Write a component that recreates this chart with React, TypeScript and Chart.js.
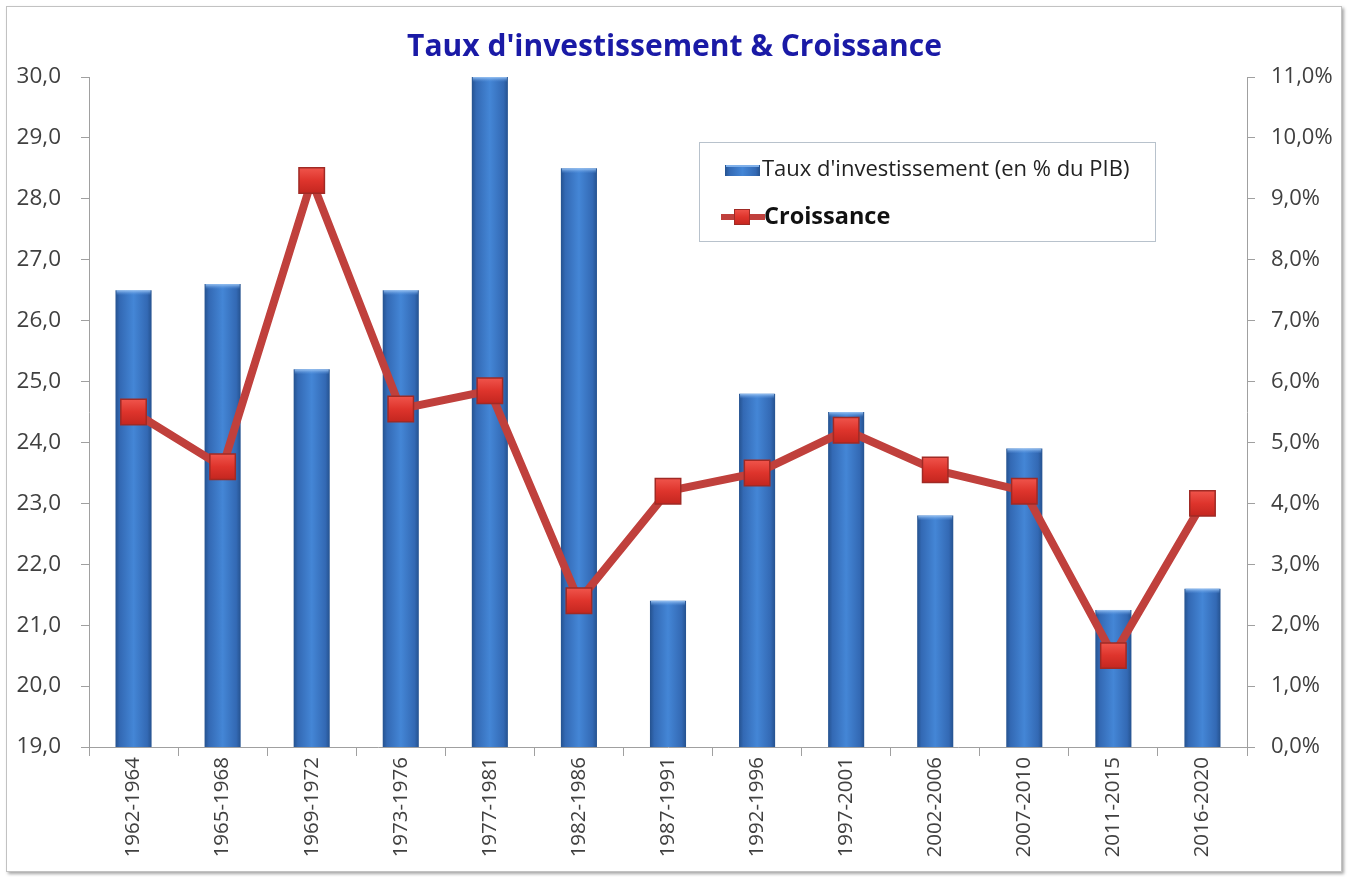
import React, { useEffect, useRef } from "react";
import { Chart, registerables } from "chart.js";

Chart.register(...registerables);

const categories = [
  "1962-1964", "1965-1968", "1969-1972", "1973-1976", "1977-1981", "1982-1986",
  "1987-1991", "1992-1996", "1997-2001", "2002-2006", "2007-2010", "2011-2015", "2016-2020",
];
const investissement = [26.5, 26.6, 25.2, 26.5, 30.0, 28.5, 21.4, 24.8, 24.5, 22.8, 23.9, 21.25, 21.6];
const croissance = [5.5, 4.6, 9.3, 5.55, 5.85, 2.4, 4.2, 4.5, 5.2, 4.55, 4.2, 1.5, 4.0];

const leftMin = 19;
const leftMax = 30;
const rightMin = 0;
const rightMax = 11;

const titleText = "Taux d'investissement & Croissance";
const barLabel = "Taux d'investissement (en % du PIB)";
const lineLabel = "Croissance";

const FONT = "'Open Sans', 'Noto Sans', sans-serif";
const BAR_PCT = 0.405;

function barGradient(ctx: CanvasRenderingContext2D, left: number, right: number) {
  const g = ctx.createLinearGradient(left, 0, right, 0);
  g.addColorStop(0, "#25528f");
  g.addColorStop(0.12, "#3369b4");
  g.addColorStop(0.5, "#4486d6");
  g.addColorStop(0.88, "#3369b4");
  g.addColorStop(1, "#25528f");
  return g;
}

function markerGradient(ctx: CanvasRenderingContext2D, top: number, bottom: number) {
  const g = ctx.createLinearGradient(0, top, 0, bottom);
  g.addColorStop(0, "#f0554c");
  g.addColorStop(0.5, "#de342c");
  g.addColorStop(1, "#c3261f");
  return g;
}

const barCapPlugin = {
  id: "barCap",
  afterDatasetDraw(chart: any, args: any) {
    if (args.index !== 0) return;
    const { ctx } = chart;
    const meta = chart.getDatasetMeta(0);
    ctx.save();
    meta.data.forEach((el: any) => {
      const half = el.width / 2;
      const g = ctx.createLinearGradient(0, el.y, 0, el.y + 5);
      g.addColorStop(0, "rgba(160,200,245,0.95)");
      g.addColorStop(1, "rgba(90,150,225,0)");
      ctx.fillStyle = g;
      ctx.fillRect(el.x - half + 1, el.y, el.width - 2, 5);
    });
    ctx.restore();
  },
};

const legendPlugin = {
  id: "boxLegend",
  afterDraw(chart: any) {
    const { ctx, chartArea } = chart;
    const x = chartArea.left + 610;
    const y = chartArea.top + 65;
    const w = 456;
    const h = 99;
    ctx.save();
    ctx.fillStyle = "#ffffff";
    ctx.fillRect(x, y, w, h);
    ctx.strokeStyle = "#b8c2cc";
    ctx.lineWidth = 1;
    ctx.strokeRect(x + 0.5, y + 0.5, w, h);

    // row 1 : bar swatch
    const r1 = y + 28;
    ctx.fillStyle = barGradient(ctx, x + 26, x + 61);
    ctx.fillRect(x + 26, r1 - 5, 35, 11);
    ctx.fillStyle = "#7fb0ea";
    ctx.fillRect(x + 27, r1 - 5, 33, 2);
    ctx.fillStyle = "#222222";
    ctx.font = `22px ${FONT}`;
    ctx.textBaseline = "middle";
    ctx.textAlign = "left";
    ctx.fillText(barLabel, x + 63, r1);

    // row 2 : line swatch
    const r2 = y + 75;
    ctx.strokeStyle = "#c0403c";
    ctx.lineWidth = 6;
    ctx.beginPath();
    ctx.moveTo(x + 22, r2);
    ctx.lineTo(x + 66, r2);
    ctx.stroke();
    ctx.fillStyle = markerGradient(ctx, r2 - 8, r2 + 8);
    ctx.fillRect(x + 35, r2 - 8, 16, 16);
    ctx.strokeStyle = "#9e2a25";
    ctx.lineWidth = 1;
    ctx.strokeRect(x + 35.5, r2 - 7.5, 15, 15);
    ctx.fillStyle = "#111111";
    ctx.font = `bold 23.5px ${FONT}`;
    ctx.fillText(lineLabel, x + 65, r2);
    ctx.restore();
  },
};

export default function App() {
  const canvasRef = useRef<HTMLCanvasElement | null>(null);

  useEffect(() => {
    const canvas = canvasRef.current;
    if (!canvas) return;
    const fmt = (v: number) => v.toFixed(1).replace(".", ",");

    const chart = new Chart(canvas, {
      type: "bar",
      data: {
        labels: categories,
        datasets: [
          {
            type: "bar",
            label: barLabel,
            data: investissement,
            yAxisID: "y",
            order: 1,
            categoryPercentage: 1,
            barPercentage: BAR_PCT,
            borderWidth: 0,
            backgroundColor: (c: any) => {
              const ch = c.chart;
              const xs = ch.scales?.x;
              if (!xs || c.type !== "data" || !ch.chartArea) return "#3b78c6";
              const cx = xs.getPixelForValue(c.dataIndex);
              const half = (xs.width / categories.length) * BAR_PCT / 2;
              return barGradient(ch.ctx, cx - half, cx + half);
            },
          } as any,
          {
            type: "line",
            label: lineLabel,
            data: croissance,
            yAxisID: "y1",
            order: 0,
            borderColor: "#c0403c",
            borderWidth: 8,
            tension: 0,
            pointStyle: "rect",
            pointRadius: 18,
            pointHoverRadius: 18,
            pointBackgroundColor: (c: any) => {
              const ch = c.chart;
              const ys = ch.scales?.y1;
              if (!ys || c.type !== "data" || !ch.chartArea) return "#e0352f";
              const cy = ys.getPixelForValue(croissance[c.dataIndex]);
              return markerGradient(ch.ctx, cy - 13, cy + 13);
            },
            pointBorderColor: "#a02a25",
            pointBorderWidth: 1.5,
          } as any,
        ],
      },
      options: {
        responsive: false,
        animation: false,
        devicePixelRatio: 1,
        layout: { padding: { left: 0, right: 0, top: 0, bottom: 0 } },
        plugins: {
          legend: { display: false },
          tooltip: { enabled: false },
          title: {
            display: true,
            text: titleText,
            color: "#1a1aa6",
            font: { family: FONT, size: 30, weight: "bold" },
            padding: { top: 29, bottom: 12 },
          },
        },
        scales: {
          x: {
            type: "category",
            offset: true,
            grid: {
              display: true,
              offset: true,
              drawOnChartArea: false,
              drawTicks: true,
              tickLength: 9,
              color: "#a0a0a0",
            },
            border: { display: true, color: "#a0a0a0", width: 1 },
            ticks: {
              autoSkip: false,
              maxRotation: 90,
              minRotation: 90,
              padding: 1,
              color: "#404040",
              font: { family: FONT, size: 20.5 },
            },
            afterFit: (s: any) => {
              s.height = 130;
            },
          },
          y: {
            type: "linear",
            position: "left",
            min: leftMin,
            max: leftMax,
            grid: {
              drawOnChartArea: false,
              drawTicks: true,
              tickLength: 8,
              color: "#a0a0a0",
            },
            border: { display: true, color: "#a0a0a0", width: 1 },
            ticks: {
              stepSize: 1,
              padding: 20,
              color: "#404040",
              font: { family: FONT, size: 22.5 },
              callback: (v: any) => fmt(Number(v)),
            },
            afterFit: (s: any) => {
              s.width = 89;
            },
          },
          y1: {
            type: "linear",
            position: "right",
            min: rightMin,
            max: rightMax,
            grid: {
              drawOnChartArea: false,
              drawTicks: true,
              tickLength: 8,
              color: "#a0a0a0",
            },
            border: { display: true, color: "#a0a0a0", width: 1 },
            ticks: {
              stepSize: 1,
              padding: 16,
              color: "#404040",
              font: { family: FONT, size: 22 },
              callback: (v: any) => fmt(Number(v)) + "%",
            },
            afterFit: (s: any) => {
              s.width = 102;
            },
          },
        },
      } as any,
      plugins: [barCapPlugin, legendPlugin],
    });

    return () => {
      chart.destroy();
    };
  }, []);

  return (
    <div
      style={{
        position: "fixed",
        left: 0,
        top: 0,
        width: 1349,
        height: 877,
        background: "#ffffff",
        overflow: "hidden",
      }}
    >
      <div
        style={{
          position: "absolute",
          left: 6,
          top: 6,
          width: 1336,
          height: 866,
          boxSizing: "border-box",
          border: "1px solid #c2c2c2",
          boxShadow: "2px 2px 3px rgba(0,0,0,0.35)",
          background: "#ffffff",
        }}
      />
      <canvas
        ref={canvasRef}
        width={1349}
        height={877}
        style={{ position: "absolute", left: 0, top: 0, width: 1349, height: 877 }}
      />
    </div>
  );
}
